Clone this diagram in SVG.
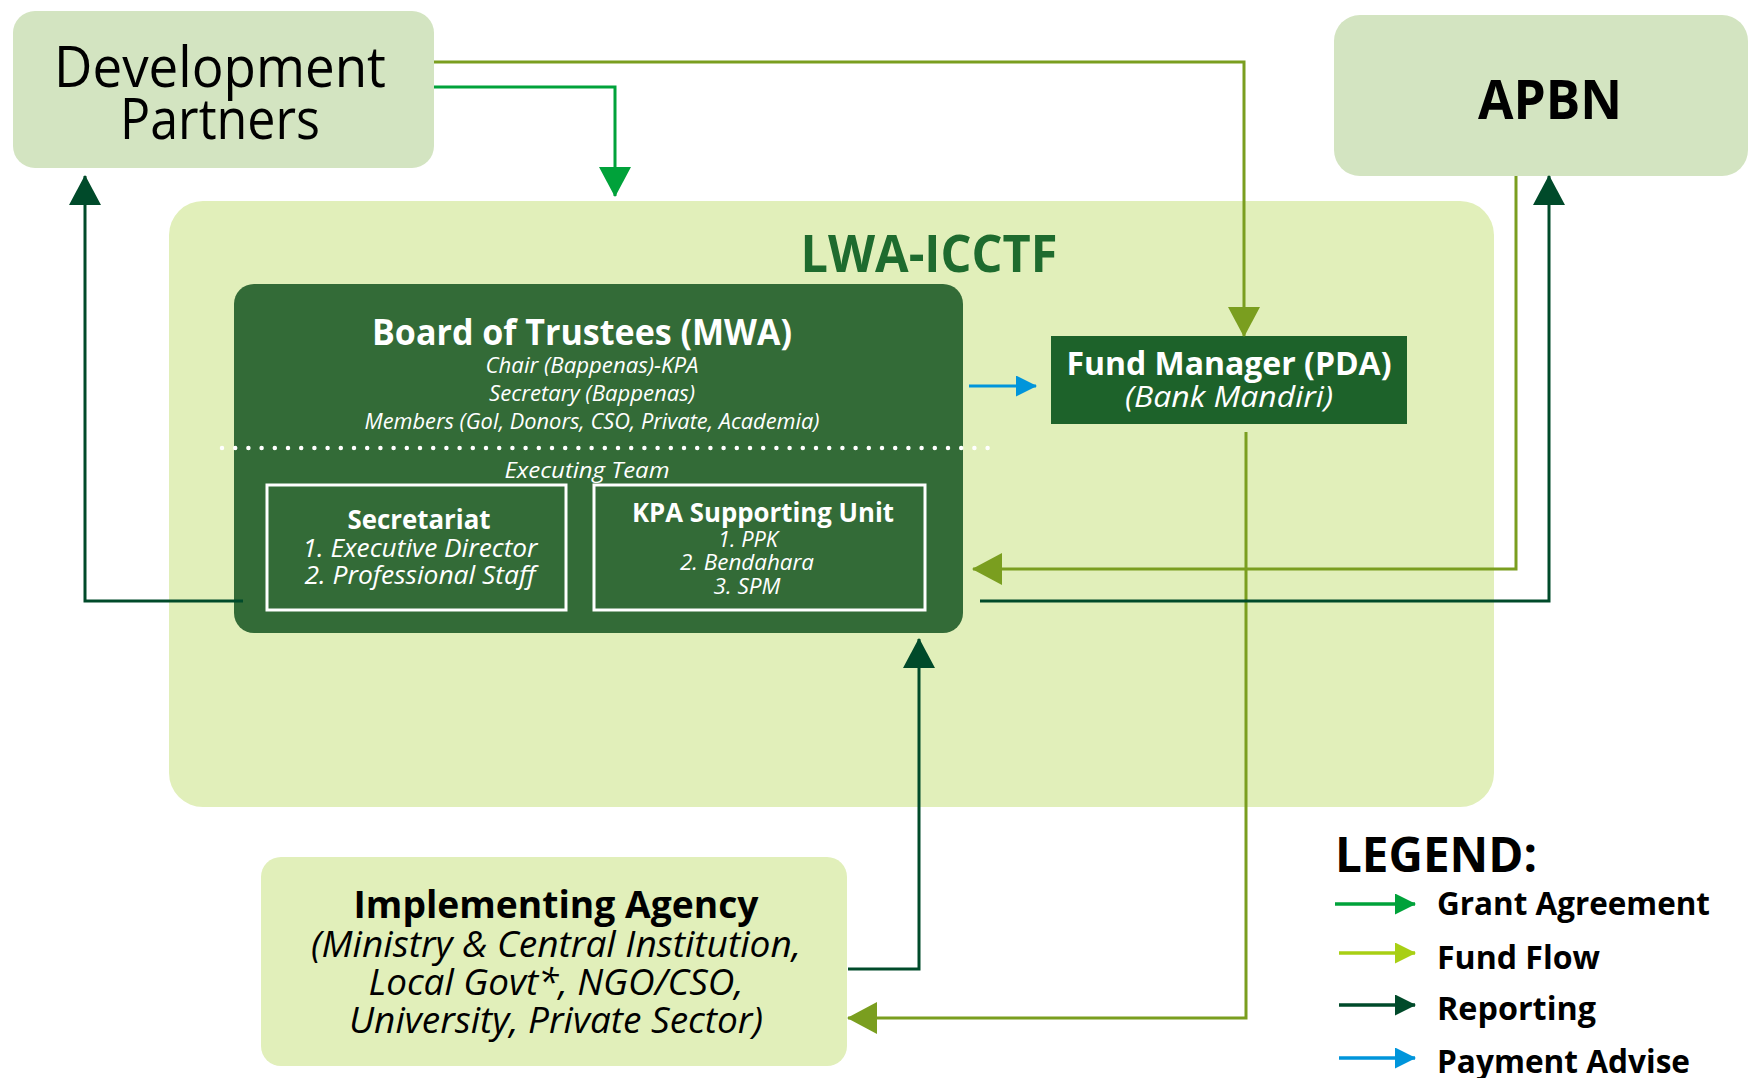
<svg xmlns="http://www.w3.org/2000/svg" width="1754" height="1078" viewBox="0 0 1754 1078">
<style>
text{font-family:"Open Sans","Noto Sans","Liberation Sans",sans-serif;text-anchor:middle}
.b{font-weight:bold}
.i{font-style:italic}
.w{fill:#ffffff}
.k{fill:#000000}
.ln{fill:none;stroke-width:3}
.lg{fill:none;stroke-width:3.5}
.lgt{text-anchor:start;font-weight:bold;font-size:32px;fill:#000}
</style>
<defs>
<marker id="aGrant" markerUnits="userSpaceOnUse" viewBox="0 0 30 32" markerWidth="30" markerHeight="32" refX="29" refY="16" orient="auto"><path d="M0,0L30,16L0,32z" fill="#00a23a"/></marker>
<marker id="aFund" markerUnits="userSpaceOnUse" viewBox="0 0 30 32" markerWidth="30" markerHeight="32" refX="29" refY="16" orient="auto"><path d="M0,0L30,16L0,32z" fill="#7a9e1f"/></marker>
<marker id="aRep" markerUnits="userSpaceOnUse" viewBox="0 0 30 32" markerWidth="30" markerHeight="32" refX="29" refY="16" orient="auto"><path d="M0,0L30,16L0,32z" fill="#004a2a"/></marker>
<marker id="sGrant" markerUnits="userSpaceOnUse" viewBox="0 0 21 21" markerWidth="21" markerHeight="21" refX="20" refY="10.5" orient="auto"><path d="M0,0L21,10.5L0,21z" fill="#00a23a"/></marker>
<marker id="sFund" markerUnits="userSpaceOnUse" viewBox="0 0 21 21" markerWidth="21" markerHeight="21" refX="20" refY="10.5" orient="auto"><path d="M0,0L21,10.5L0,21z" fill="#a8cf14"/></marker>
<marker id="sRep" markerUnits="userSpaceOnUse" viewBox="0 0 21 21" markerWidth="21" markerHeight="21" refX="20" refY="10.5" orient="auto"><path d="M0,0L21,10.5L0,21z" fill="#004a2a"/></marker>
<marker id="sPay" markerUnits="userSpaceOnUse" viewBox="0 0 21 21" markerWidth="21" markerHeight="21" refX="20" refY="10.5" orient="auto"><path d="M0,0L21,10.5L0,21z" fill="#0095db"/></marker>
</defs>
<rect width="1754" height="1078" fill="#ffffff"/>

<g id="lwa-icctf">
<rect x="169" y="201" width="1325" height="606" rx="34" fill="#e1efba"/>
<text x="929" y="272" class="b" font-size="52" fill="#1e6b2e" textLength="257" lengthAdjust="spacingAndGlyphs">LWA-ICCTF</text>
</g>

<g id="development-partners">
<rect x="13" y="11" width="421" height="157" rx="22" fill="#d3e4c1"/>
<text x="220" y="87" font-size="56" class="k" textLength="332" lengthAdjust="spacingAndGlyphs">Development</text>
<text x="220" y="139" font-size="56" class="k" textLength="200" lengthAdjust="spacingAndGlyphs">Partners</text>
</g>

<g id="apbn">
<rect x="1334" y="15" width="414" height="161" rx="26" fill="#d3e4c1"/>
<text x="1550" y="119" font-size="53" class="b k" textLength="144" lengthAdjust="spacingAndGlyphs">APBN</text>
</g>

<g id="board-of-trustees">
<rect x="234" y="284" width="729" height="349" rx="20" fill="#336b37"/>
<text x="582" y="345" font-size="36" class="b w" textLength="420" lengthAdjust="spacingAndGlyphs">Board of Trustees (MWA)</text>
<text x="592" y="373" font-size="21" class="i w" textLength="213" lengthAdjust="spacingAndGlyphs">Chair (Bappenas)-KPA</text>
<text x="592" y="401" font-size="21" class="i w" textLength="206" lengthAdjust="spacingAndGlyphs">Secretary (Bappenas)</text>
<text x="592" y="429" font-size="21" class="i w" textLength="455" lengthAdjust="spacingAndGlyphs">Members (GoI, Donors, CSO, Private, Academia)</text>
<line x1="222" y1="448" x2="999" y2="448" stroke="#ffffff" stroke-width="4.5" stroke-linecap="round" stroke-dasharray="0 13.2"/>
<text x="587" y="478" font-size="22" class="i w" textLength="165" lengthAdjust="spacingAndGlyphs">Executing Team</text>
</g>

<g id="secretariat">
<rect x="267" y="485" width="299" height="125" fill="none" stroke="#ffffff" stroke-width="3"/>
<text x="419" y="529" font-size="26" class="b w" textLength="143" lengthAdjust="spacingAndGlyphs">Secretariat</text>
<text x="420" y="557" font-size="26" class="i w" textLength="235" lengthAdjust="spacingAndGlyphs">1. Executive Director</text>
<text x="420" y="584" font-size="26" class="i w" textLength="231" lengthAdjust="spacingAndGlyphs">2. Professional Staff</text>
</g>

<g id="kpa-supporting-unit">
<rect x="594" y="485" width="331" height="125" fill="none" stroke="#ffffff" stroke-width="3"/>
<text x="763" y="522" font-size="26" class="b w" textLength="262" lengthAdjust="spacingAndGlyphs">KPA Supporting Unit</text>
<text x="748" y="547" font-size="21" class="i w" textLength="60" lengthAdjust="spacingAndGlyphs">1. PPK</text>
<text x="747" y="570" font-size="21" class="i w" textLength="134" lengthAdjust="spacingAndGlyphs">2. Bendahara</text>
<text x="747" y="594" font-size="21" class="i w" textLength="67" lengthAdjust="spacingAndGlyphs">3. SPM</text>
</g>

<g id="fund-manager">
<rect x="1051" y="336" width="356" height="88" fill="#1d622a"/>
<text x="1229" y="375" font-size="32" class="b w" textLength="325" lengthAdjust="spacingAndGlyphs">Fund Manager (PDA)</text>
<text x="1229" y="407" font-size="30" class="i w" textLength="208" lengthAdjust="spacingAndGlyphs">(Bank Mandiri)</text>
</g>

<g id="implementing-agency">
<rect x="261" y="857" width="586" height="209" rx="20" fill="#e1efba"/>
<text x="556" y="918" font-size="37" class="b k" textLength="405" lengthAdjust="spacingAndGlyphs">Implementing Agency</text>
<text x="556" y="957" font-size="36" class="i k" textLength="490" lengthAdjust="spacingAndGlyphs">(Ministry &amp; Central Institution,</text>
<text x="556" y="995" font-size="36" class="i k" textLength="375" lengthAdjust="spacingAndGlyphs">Local Govt*, NGO/CSO,</text>
<text x="556" y="1033" font-size="36" class="i k" textLength="414" lengthAdjust="spacingAndGlyphs">University, Private Sector)</text>
</g>

<g id="connectors">
<path class="ln" stroke="#00a23a" d="M434,87H615V196" marker-end="url(#aGrant)"/>
<path class="ln" stroke="#7a9e1f" d="M434,62H1244V336" marker-end="url(#aFund)"/>
<path class="ln" stroke="#0095db" d="M969,386H1036" marker-end="url(#sPay)"/>
<path class="ln" stroke="#7a9e1f" d="M1246,432V1018H848" marker-end="url(#aFund)"/>
<path class="ln" stroke="#7a9e1f" d="M1516,176V569H973" marker-end="url(#aFund)"/>
<path class="ln" stroke="#004a2a" d="M980,601H1549V176" marker-end="url(#aRep)"/>
<path class="ln" stroke="#004a2a" d="M243,601H85V176" marker-end="url(#aRep)"/>
<path class="ln" stroke="#004a2a" d="M848,969H919V639" marker-end="url(#aRep)"/>
</g>

<g id="legend">
<text x="1335" y="872" font-size="48" class="b k" style="text-anchor:start" textLength="202" lengthAdjust="spacingAndGlyphs">LEGEND:</text>
<path class="lg" stroke="#00a23a" d="M1335,904H1415" marker-end="url(#sGrant)"/>
<text x="1437" y="915" class="lgt" textLength="273" lengthAdjust="spacingAndGlyphs">Grant Agreement</text>
<path class="lg" stroke="#a8cf14" d="M1339,953H1415" marker-end="url(#sFund)"/>
<text x="1437" y="969" class="lgt" textLength="163" lengthAdjust="spacingAndGlyphs">Fund Flow</text>
<path class="lg" stroke="#004a2a" d="M1339,1005H1415" marker-end="url(#sRep)"/>
<text x="1437" y="1020" class="lgt" textLength="159" lengthAdjust="spacingAndGlyphs">Reporting</text>
<path class="lg" stroke="#0095db" d="M1339,1058H1415" marker-end="url(#sPay)"/>
<text x="1437" y="1073" class="lgt" textLength="253" lengthAdjust="spacingAndGlyphs">Payment Advise</text>
</g>
</svg>
